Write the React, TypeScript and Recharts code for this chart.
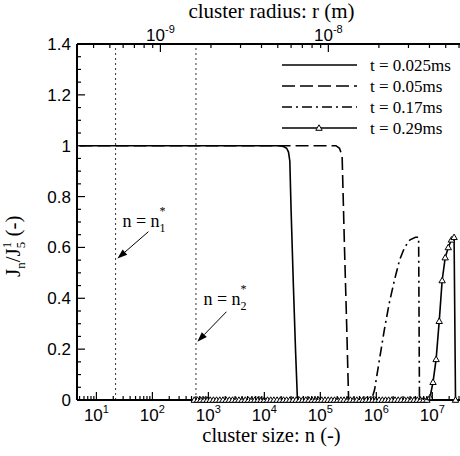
import { LineChart, Line, XAxis, YAxis, ReferenceLine, Label } from 'recharts'

const SERIF = "'Liberation Serif', 'Times New Roman', serif"
const SANS = "'Liberation Sans', Arial, sans-serif"

const N_MIN = 4.5
const N_MAX = 4e7

// [n, Jn/J5]
const t025: [number, number][] = [
  [5, 1], [1.8e4, 1], [2.2e4, 0.997], [2.5e4, 0.99], [2.7e4, 0.975], [2.85e4, 0.94],
  [3.0e4, 0.75], [3.3e4, 0.45], [3.6e4, 0.2], [3.9e4, 0], [4e7, 0],
]
const t005: [number, number][] = [
  [5, 1], [1.9e5, 1], [2.2e5, 0.99], [2.45e5, 0.96], [2.7e5, 0.6], [2.95e5, 0.3], [3.2e5, 0], [4e7, 0],
]
const t017: [number, number][] = [
  [600, 0], [8.2e5, 0], [9.3e5, 0.04], [1.14e6, 0.16], [1.4e6, 0.28], [1.7e6, 0.38], [2.1e6, 0.47],
  [2.6e6, 0.55], [3.2e6, 0.6], [4.0e6, 0.63], [5.0e6, 0.64], [5.7e6, 0.64], [5.9e6, 0], [4e7, 0],
]
const t029: [number, number][] = [
  [560, 0], [640, 0], [730, 0], [830, 0], [950, 0], [1080, 0], [1230, 0], [1400, 0], [1600, 0],
  [1820, 0], [2080, 0], [2370, 0], [2700, 0], [3080, 0], [3510, 0], [4000, 0], [4560, 0], [5200, 0],
  [5930, 0], [6760, 0], [7700, 0], [8780, 0], [1.0e4, 0], [1.14e4, 0], [1.3e4, 0], [1.48e4, 0],
  [1.69e4, 0], [1.93e4, 0], [2.2e4, 0], [2.5e4, 0], [2.86e4, 0], [3.26e4, 0], [3.71e4, 0], [4.23e4, 0],
  [4.83e4, 0], [5.5e4, 0], [6.27e4, 0], [7.15e4, 0], [8.15e4, 0], [9.3e4, 0], [1.06e5, 0], [1.21e5, 0],
  [1.38e5, 0], [1.57e5, 0], [1.79e5, 0], [2.04e5, 0], [2.33e5, 0], [2.65e5, 0], [3.02e5, 0], [3.45e5, 0],
  [3.93e5, 0], [4.48e5, 0], [5.1e5, 0], [5.82e5, 0], [6.64e5, 0], [7.57e5, 0], [8.63e5, 0], [9.83e5, 0],
  [1.12e6, 0], [1.28e6, 0], [1.46e6, 0], [1.66e6, 0], [1.89e6, 0], [2.16e6, 0], [2.46e6, 0], [2.8e6, 0],
  [3.2e6, 0], [3.64e6, 0], [4.15e6, 0], [4.74e6, 0], [5.4e6, 0], [6.15e6, 0], [7.0e6, 0], [8.0e6, 0],
  [9.1e6, 0.01], [1.03e7, 0.07], [1.17e7, 0.16], [1.33e7, 0.31], [1.5e7, 0.47], [1.7e7, 0.56],
  [1.93e7, 0.6], [2.2e7, 0.63], [2.45e7, 0.64], [2.6e7, 0],
]

// critical sizes n1*, n2*
const nStar1 = 22
const nStar2 = 600

// annotation arrows: [tail, head] in (n, J) units
const arrow1 = [{ x: 85, y: 0.662 }, { x: 23.7, y: 0.556 }]
const arrow2 = [{ x: 2100, y: 0.347 }, { x: 635, y: 0.229 }]

// axis ticks
const nDecades = [10, 100, 1e3, 1e4, 1e5, 1e6, 1e7]
const minorMult = [2, 3, 4, 5, 6, 7, 8, 9]
const rTicks = [
  4e-10, 5e-10, 6e-10, 7e-10, 8e-10, 9e-10, 1e-9, 2e-9, 3e-9, 4e-9, 5e-9, 6e-9, 7e-9, 8e-9, 9e-9,
  1e-8, 2e-8, 3e-8, 4e-8, 5e-8, 6e-8,
]
const yTicks = [
  0, 0.05, 0.1, 0.15, 0.2, 0.25, 0.3, 0.35, 0.4, 0.45, 0.5, 0.55, 0.6, 0.65, 0.7, 0.75, 0.8, 0.85, 0.9,
  0.95, 1, 1.05, 1.1, 1.15, 1.2, 1.25, 1.3, 1.35, 1.4,
]

// r is proportional to n^(1/3); r = 1e-9 m at n ~ 139
const nFromR = (r: number) => 139 * Math.pow(r / 1e-9, 3)
const rFromN = (n: number) => 1e-9 * Math.cbrt(n / 139)

const nTicks = [5, 6, 7, 8, 9, ...nDecades.flatMap((d) => [d, ...minorMult.map((m) => m * d)])].filter(
  (v) => v <= N_MAX
)
const topTicks = rTicks.map(nFromR)

const toPts = (arr: [number, number][]) => arr.map(([n, j]) => ({ n, j }))

const isDecade = (v: number) => Math.abs(Math.log10(v) - Math.round(Math.log10(v))) < 1e-6

const BottomTick = (props: any) => {
  const { x, y, payload } = props
  const v = payload.value
  const major = isDecade(v)
  return (
    <g>
      <line x1={x} x2={x} y1={y} y2={y - (major ? 8 : 4)} stroke="#000" strokeWidth={1.2} />
      {major && (
        <text x={x} y={y + 21} textAnchor="middle" fontSize={17} fontFamily={SANS} fill="#000">
          10
          <tspan dy={-8} fontSize={11}>
            {Math.round(Math.log10(v))}
          </tspan>
        </text>
      )}
    </g>
  )
}

const TopTick = (props: any) => {
  const { x, y, payload } = props
  const r = rFromN(payload.value)
  const major = isDecade(r)
  return (
    <g>
      <line x1={x} x2={x} y1={y} y2={y + (major ? 8 : 4)} stroke="#000" strokeWidth={1.2} />
      {major && (
        <text x={x} y={y - 3} textAnchor="middle" fontSize={17} fontFamily={SANS} fill="#000">
          10
          <tspan dy={-8} fontSize={11}>
            {Math.round(Math.log10(r))}
          </tspan>
        </text>
      )}
    </g>
  )
}

const LeftTick = (props: any) => {
  const { x, y, payload } = props
  const v = payload.value
  const major = Math.abs(v * 5 - Math.round(v * 5)) < 1e-6
  return (
    <g>
      <line x1={x} x2={x + (major ? 8 : 4)} y1={y} y2={y} stroke="#000" strokeWidth={1.2} />
      {major && (
        <text x={x - 6} y={y + 6} textAnchor="end" fontSize={17} fontFamily={SANS} fill="#000">
          {String(Number(v.toFixed(1)))}
        </text>
      )}
    </g>
  )
}

const TriangleDot = (props: any) => {
  const { cx, cy, index } = props
  if (cx == null || cy == null) return <g key={index} />
  return (
    <path
      key={index}
      d={`M${cx},${cy - 3.2} L${cx + 3.2},${cy + 2.3} L${cx - 3.2},${cy + 2.3} Z`}
      fill="#fff"
      stroke="#000"
      strokeWidth={1}
    />
  )
}

// arrow + "n = n_k*" label, text placed relative to the arrow tail
const arrowShape = (k: string, dx: number, dy: number) => (p: any) => {
  const { x1, y1, x2, y2 } = p
  const ang = Math.atan2(y2 - y1, x2 - x1)
  const L = 10
  const w = 3.5
  const bx = x2 - L * Math.cos(ang)
  const by = y2 - L * Math.sin(ang)
  const px = -Math.sin(ang) * w
  const py = Math.cos(ang) * w
  return (
    <g>
      <line x1={x1} y1={y1} x2={bx} y2={by} stroke="#000" strokeWidth={1} />
      <polygon points={`${x2},${y2} ${bx + px},${by + py} ${bx - px},${by - py}`} fill="#000" />
      <text x={x1 + dx} y={y1 + dy} fontSize={18} fontFamily={SERIF} fill="#000">
        n = n
        <tspan dy={5} fontSize={12}>
          {k}
        </tspan>
        <tspan dx={-6} dy={-17} fontSize={12}>
          *
        </tspan>
      </text>
    </g>
  )
}

const legendRows = [
  { label: 't = 0.025ms', dash: undefined, tri: false },
  { label: 't = 0.05ms', dash: '13 5', tri: false },
  { label: 't = 0.17ms', dash: '10 4 2 4', tri: false },
  { label: 't = 0.29ms', dash: undefined, tri: true },
]

export default function App() {
  return (
    <div style={{ position: 'absolute', left: 0, top: 0, width: 460, height: 456, overflow: 'hidden', background: '#fff' }}>
      <LineChart width={470} height={456} margin={{ top: 0, right: 4, bottom: 0, left: 0 }}>
        <XAxis
          xAxisId="bottom"
          dataKey="n"
          type="number"
          scale="log"
          domain={[N_MIN, N_MAX]}
          allowDataOverflow
          ticks={nTicks}
          interval={0}
          tick={<BottomTick />}
          tickLine={false}
          tickSize={0}
          tickMargin={0}
          height={56}
          axisLine={{ stroke: '#000', strokeWidth: 2 }}
        >
          <Label
            content={(p: any) => {
              const vb = p.viewBox
              return (
                <text x={vb.x + vb.width / 2} y={vb.y + 42} textAnchor="middle" fontSize={20.5} fontFamily={SERIF} fill="#000">
                  cluster size: n (-)
                </text>
              )
            }}
          />
        </XAxis>
        <XAxis
          xAxisId="top"
          orientation="top"
          dataKey="n"
          type="number"
          scale="log"
          domain={[N_MIN, N_MAX]}
          allowDataOverflow
          ticks={topTicks}
          interval={0}
          tick={<TopTick />}
          tickLine={false}
          tickSize={0}
          tickMargin={0}
          height={44}
          axisLine={{ stroke: '#000', strokeWidth: 2 }}
        >
          <Label
            content={(p: any) => {
              const vb = p.viewBox
              return (
                <text x={vb.x + vb.width / 2} y={18} textAnchor="middle" fontSize={21} fontFamily={SERIF} fill="#000">
                  cluster radius: r (m)
                </text>
              )
            }}
          />
        </XAxis>
        <YAxis
          type="number"
          domain={[0, 1.4]}
          ticks={yTicks}
          interval={0}
          tick={<LeftTick />}
          tickLine={false}
          tickSize={0}
          tickMargin={0}
          width={77}
          axisLine={{ stroke: '#000', strokeWidth: 2 }}
        >
          <Label
            content={() => {
              const cy = 277
              return (
                <text x={20} y={cy} transform={`rotate(-90 20 ${cy})`} textAnchor="start" fontSize={21} fontFamily={SERIF} fill="#000">
                  J
                  <tspan dy={5} fontSize={13}>n</tspan>
                  <tspan dy={-5}>/J</tspan>
                  <tspan dy={5} fontSize={13}>5</tspan>
                  <tspan dx={-6.5} dy={-14} fontSize={13}>1</tspan>
                  <tspan dy={9}> (-)</tspan>
                </text>
              )
            }}
          />
        </YAxis>

        <ReferenceLine xAxisId="bottom" x={nStar1} stroke="#333" strokeWidth={1} strokeDasharray="2 3" />
        <ReferenceLine xAxisId="bottom" x={nStar2} stroke="#333" strokeWidth={1} strokeDasharray="2 3" />
        <ReferenceLine xAxisId="bottom" segment={arrow1} shape={arrowShape('1', -26, -5)} />
        <ReferenceLine xAxisId="bottom" segment={arrow2} shape={arrowShape('2', -23, -7)} />

        <Line xAxisId="bottom" data={toPts(t025)} dataKey="j" stroke="#000" strokeWidth={1.6} dot={false} activeDot={false} isAnimationActive={false} />
        <Line xAxisId="bottom" data={toPts(t005)} dataKey="j" stroke="#000" strokeWidth={1.6} strokeDasharray="13 5" dot={false} activeDot={false} isAnimationActive={false} />
        <Line xAxisId="bottom" data={toPts(t017)} dataKey="j" stroke="#000" strokeWidth={1.6} strokeDasharray="10 4 2 4" dot={false} activeDot={false} isAnimationActive={false} />
        <Line xAxisId="bottom" data={toPts(t029)} dataKey="j" stroke="#000" strokeWidth={1.6} dot={(p: any) => <TriangleDot key={p.index} {...p} />} activeDot={false} isAnimationActive={false} />
      </LineChart>

      <svg width={460} height={456} style={{ position: 'absolute', left: 0, top: 0, pointerEvents: 'none' }}>
        {legendRows.map((r, i) => {
          const y = 65 + i * 21
          return (
            <g key={r.label}>
              <line x1={282} x2={357} y1={y} y2={y} stroke="#000" strokeWidth={1.6} strokeDasharray={r.dash} />
              {r.tri && <TriangleDot cx={319} cy={y} />}
              <text x={370} y={y + 6} fontSize={17} fontFamily={SERIF} fill="#000">
                {r.label}
              </text>
            </g>
          )
        })}
      </svg>
    </div>
  )
}
